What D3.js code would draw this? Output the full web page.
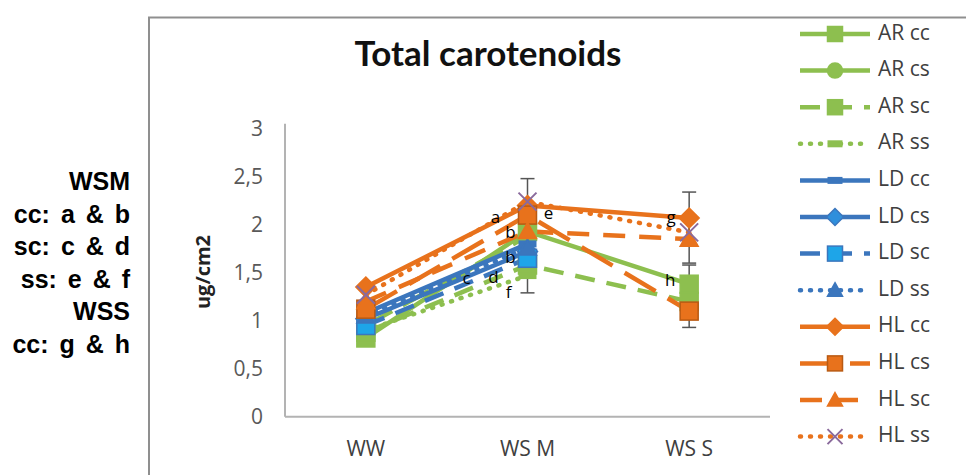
<!DOCTYPE html>
<html>
<head>
<meta charset="utf-8">
<script src="https://cdn.jsdelivr.net/npm/d3@7"></script>
<style>
  html, body { margin: 0; padding: 0; background: #fff; }
  svg { display: block; }
</style>
</head>
<body>
<svg id="chart" width="966" height="475"></svg>
<script>
// ---- data ----
const categories = ["WW", "WS M", "WS S"];
const seriesNames = ["AR cc", "AR cs", "AR sc", "AR ss", "LD cc", "LD cs", "LD sc", "LD ss", "HL cc", "HL cs", "HL sc", "HL ss"];
const arCC = [0.82, 1.93, 1.38];
const arCS = [0.95, 1.88, null];
const arSC = [0.88, 1.58, 1.20];
const arSS = [0.90, 1.47, null];
const ldCC = [1.08, 1.80, null];
const ldCS = [1.02, 1.72, null];
const ldSC = [0.95, 1.65, null];
const ldSS = [1.05, 1.76, null];
const hlCC = [1.35, 2.20, 2.07];
const hlCS = [1.12, 2.10, 1.10];
const hlSC = [1.20, 1.93, 1.85];
const hlSS = [1.27, 2.24, 1.92];
const seriesValues = [arCC, arCS, arSC, arSS, ldCC, ldCS, ldSC, ldSS, hlCC, hlCS, hlSC, hlSS];

// error bar half-widths (null = no bar)
const hlCCerr = [null, 0.28, 0.27];
const arSSerr = [null, 0.18, null];
const arCCerr = [null, null, 0.20];
const hlCSerr = [null, null, 0.17];
const hlSCerr = [null, null, 0.25];
const errorSets = [
  { values: hlCC, err: hlCCerr },
  { values: arSS, err: arSSerr },
  { values: arCC, err: arCCerr },
  { values: hlCS, err: hlCSerr },
  { values: hlSC, err: hlSCerr }
];

const yTickValues = [0, 0.5, 1, 1.5, 2, 2.5, 3];
const yTickLabels = ["0", "0,5", "1", "1,5", "2", "2,5", "3"];

// significance letters: text, category, value position, horizontal offset
const letterText = ["a", "e", "b", "b", "c", "d", "f", "g", "h"];
const letterCat  = ["WS M", "WS M", "WS M", "WS M", "WS M", "WS M", "WS M", "WS S", "WS S"];
const letterVal  = [2.06, 2.11, 1.91, 1.65, 1.43, 1.44, 1.28, 2.06, 1.41];
const letterDx   = [-32, 21, -17, -17, -61, -34, -19, -18, -19];

const noteLines = ["WSM", "cc: a & b", "sc: c & d", "ss: e & f", "WSS", "cc: g & h"];

// ---- styles ----
const GREEN = "#8dbf4f", BLUE = "#3b76bd", ORANGE = "#e8721c", LBLUE = "#1ea5e8", XPURPLE = "#8a6a9c";
const styles = [
  { color: GREEN,  dash: null,     marker: "square",   fill: GREEN },
  { color: GREEN,  dash: "30,12",  marker: "circle",   fill: GREEN },
  { color: GREEN,  dash: "20,12",  marker: "square",   fill: GREEN },
  { color: GREEN,  dash: "1,9",    marker: "dash",     fill: GREEN },
  { color: BLUE,   dash: null,     marker: "dash",     fill: BLUE },
  { color: BLUE,   dash: null,     marker: "diamond",  fill: "#2f8fdc" },
  { color: BLUE,   dash: "20,12",  marker: "square",   fill: LBLUE },
  { color: BLUE,   dash: "1,9",    marker: "triangle", fill: BLUE },
  { color: ORANGE, dash: null,     marker: "diamond",  fill: ORANGE },
  { color: ORANGE, dash: "36,14",  marker: "square",   fill: ORANGE, stroke: "#b95a12" },
  { color: ORANGE, dash: "22,14",  marker: "triangle", fill: ORANGE },
  { color: ORANGE, dash: "1,9",    marker: "x",        fill: "none", stroke: XPURPLE }
];

const svg = d3.select("#chart");

// outer chart frame
svg.append("path")
  .attr("d", "M149,480 L149,17.5 L970,17.5")
  .attr("fill", "none").attr("stroke", "#8f8f8f").attr("stroke-width", 2);

// scales
const x = d3.scaleBand().domain(categories).range([285, 770]);
const cx = c => x(c) + x.bandwidth() / 2;
const y = d3.scaleLinear().domain([0, 3]).range([416.7, 128.7]);

// axes
const yAxis = d3.axisLeft(y).tickValues(yTickValues).tickSize(0).tickPadding(22)
  .tickFormat((d, i) => yTickLabels[i]);
const gy = svg.append("g").attr("transform", "translate(285,0)").call(yAxis);
gy.select(".domain").remove();
gy.selectAll("text").attr("font-family", "Open Sans, sans-serif").attr("font-size", 21).attr("fill", "#595959");

const xAxis = d3.axisBottom(x).tickSize(0).tickPadding(24);
const gx = svg.append("g").attr("transform", "translate(0,416.7)").call(xAxis);
gx.select(".domain").remove();
gx.selectAll("text").attr("font-family", "Open Sans, sans-serif").attr("font-size", 21).attr("fill", "#404040");

// axis lines
svg.append("line").attr("x1", 285).attr("x2", 285).attr("y1", y(3) - 5).attr("y2", y(0))
  .attr("stroke", "#b3b3b3").attr("stroke-width", 2);
svg.append("line").attr("x1", 285).attr("x2", 770).attr("y1", y(0)).attr("y2", y(0))
  .attr("stroke", "#b3b3b3").attr("stroke-width", 2);

// title
svg.append("text").attr("x", 488).attr("y", 66).attr("text-anchor", "middle")
  .attr("font-family", "Lato, sans-serif").attr("font-weight", "bold").attr("font-size", 35)
  .attr("fill", "#111").text("Total carotenoids");

// y axis title
svg.append("text").attr("transform", "translate(210,272) rotate(-90)").attr("text-anchor", "middle")
  .attr("font-family", "Open Sans, sans-serif").attr("font-weight", "bold").attr("font-size", 20)
  .attr("fill", "#222").text("ug/cm2");

// marker drawing
function drawMarker(g, type, px, py, size, st) {
  const h = size / 2;
  const stroke = st.stroke || st.color;
  if (type === "square") {
    g.append("rect").attr("x", px - h).attr("y", py - h).attr("width", size).attr("height", size)
      .attr("fill", st.fill).attr("stroke", stroke).attr("stroke-width", 1.5);
  } else if (type === "circle") {
    g.append("circle").attr("cx", px).attr("cy", py).attr("r", h)
      .attr("fill", st.fill).attr("stroke", stroke).attr("stroke-width", 1.5);
  } else if (type === "diamond") {
    g.append("path").attr("d", `M${px},${py - h - 1}L${px + h + 1},${py}L${px},${py + h + 1}L${px - h - 1},${py}Z`)
      .attr("fill", st.fill).attr("stroke", stroke).attr("stroke-width", 1.5);
  } else if (type === "triangle") {
    g.append("path").attr("d", `M${px},${py - h}L${px + h},${py + h * 0.8}L${px - h},${py + h * 0.8}Z`)
      .attr("fill", st.fill).attr("stroke", stroke).attr("stroke-width", 1.5);
  } else if (type === "dash") {
    g.append("rect").attr("x", px - h).attr("y", py - 3.5).attr("width", size).attr("height", 7)
      .attr("fill", st.fill);
  } else if (type === "x") {
    g.append("path").attr("d", `M${px - h},${py - h}L${px + h},${py + h}M${px - h},${py + h}L${px + h},${py - h}`)
      .attr("fill", "none").attr("stroke", stroke).attr("stroke-width", 2);
  }
}

// lines
const line = d3.line()
  .defined(d => d.v != null)
  .x(d => cx(d.c)).y(d => y(d.v));

const plot = svg.append("g");
seriesValues.forEach((vals, i) => {
  const st = styles[i];
  const pts = vals.map((v, j) => ({ c: categories[j], v }));
  plot.append("path").datum(pts).attr("d", line)
    .attr("fill", "none").attr("stroke", st.color).attr("stroke-width", 4.5)
    .attr("stroke-linecap", st.dash && st.dash.startsWith("1,") ? "round" : "butt")
    .attr("stroke-dasharray", st.dash);
});

// error bars
const eb = svg.append("g").attr("stroke", "#555").attr("stroke-width", 1.5);
errorSets.forEach(es => {
  es.err.forEach((e, j) => {
    if (e == null || es.values[j] == null) return;
    const px = cx(categories[j]);
    const lo = y(es.values[j] - e), hi = y(es.values[j] + e);
    eb.append("line").attr("x1", px).attr("x2", px).attr("y1", hi).attr("y2", lo);
    eb.append("line").attr("x1", px - 7).attr("x2", px + 7).attr("y1", hi).attr("y2", hi);
    eb.append("line").attr("x1", px - 7).attr("x2", px + 7).attr("y1", lo).attr("y2", lo);
  });
});

// markers
const mk = svg.append("g");
seriesValues.forEach((vals, i) => {
  const st = styles[i];
  vals.forEach((v, j) => {
    if (v == null) return;
    drawMarker(mk, st.marker, cx(categories[j]), y(v), 18, st);
  });
});

// letters
letterText.forEach((t, i) => {
  svg.append("text").attr("x", cx(letterCat[i]) + letterDx[i]).attr("y", y(letterVal[i]))
    .attr("text-anchor", "middle").attr("dominant-baseline", "middle")
    .attr("font-family", "Open Sans, sans-serif").attr("font-size", 17).attr("fill", "#000").text(t);
});

// legend
const lg = svg.append("g");
seriesNames.forEach((name, i) => {
  const st = styles[i];
  const ly = 34 + i * 36.6;
  lg.append("line").attr("x1", 800).attr("x2", 870).attr("y1", ly).attr("y2", ly)
    .attr("stroke", st.color).attr("stroke-width", 4.5)
    .attr("stroke-linecap", st.dash && st.dash.startsWith("1,") ? "round" : "butt")
    .attr("stroke-dasharray", st.dash);
  drawMarker(lg, st.marker, 835, ly, 15, st);
  lg.append("text").attr("x", 878).attr("y", ly).attr("dominant-baseline", "middle")
    .attr("font-family", "Open Sans, sans-serif").attr("font-size", 21).attr("fill", "#404040").text(name);
});

// side note
noteLines.forEach((t, i) => {
  svg.append("text").attr("x", 130).attr("y", 190 + i * 32.6).attr("text-anchor", "end")
    .attr("font-family", "Liberation Sans, Arial, sans-serif").attr("font-weight", "bold")
    .attr("font-size", 25).attr("word-spacing", 4).attr("fill", "#000").text(t);
});
</script>
</body>
</html>
